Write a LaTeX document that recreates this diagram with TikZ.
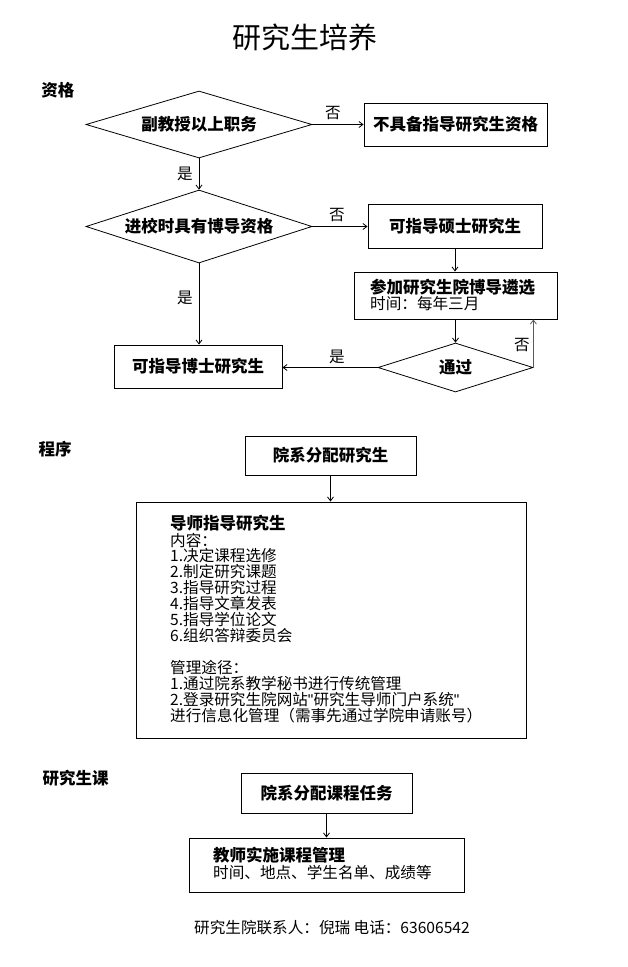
\documentclass[tikz,border=0pt]{standalone}
\usepackage{fontspec}
\setmainfont{Noto Sans CJK SC}
\newfontfamily\quotefont{Liberation Sans}
\usetikzlibrary{arrows.meta,shapes.geometric}
\newcommand\mynorm{\fontsize{15.6}{16}\selectfont}
\newcommand\mybold{\fontsize{16.5}{17}\selectfont\bfseries}
\newcommand\sq{{\quotefont\symbol{"22}}}
\begin{document}
\begin{tikzpicture}[x=1pt,y=-1pt,
  box/.style={draw, line width=0.9pt, inner sep=0pt, font=\mybold},
  dia/.style={draw, line width=0.8pt, shape=diamond, inner sep=0pt, font=\mybold},
  conn/.style={draw, line width=0.8pt, -{Straight Barb[length=4pt,width=6pt]}},
  lbl/.style={inner sep=0pt, font=\mybold},
  yn/.style={inner sep=0pt, font=\mynorm},
  txt/.style={inner sep=0pt, anchor=base west, font=\mynorm},
  btxt/.style={inner sep=0pt, anchor=base west, font=\mybold}]
\useasboundingbox (0,0) rectangle (627,967);
\fill[white] (0,0) rectangle (627,967);

% title
\node[inner sep=0pt, font=\fontsize{29}{30}\selectfont] (title) at (305,37) {研究生培养};

% section 1
\node[lbl] (s1) at (58,90) {资格};
\node[dia, aspect=3.37, minimum width=226pt, minimum height=67pt] (d1) at (199,124.5) {副教授以上职务};
\node[box, minimum width=183pt, minimum height=43pt] (b1) at (455.5,124.5) {不具备指导研究生资格};
\node[dia, aspect=3.1, minimum width=226pt, minimum height=73pt] (d2) at (199,226.5) {进校时具有博导资格};
\node[box, minimum width=174pt, minimum height=44pt] (b2) at (455,226) {可指导硕士研究生};
\node[box, minimum width=203pt, minimum height=47pt] (b3) at (455.5,295.5) {};
\node[btxt] (b3a) at (370,293.3) {参加研究生院博导遴选};
\node[txt] (b3b) at (370,309) {时间：每年三月};
\node[dia, aspect=3.16, minimum width=155pt, minimum height=49pt] (d3) at (455.5,367.5) {通过};
\node[box, minimum width=168pt, minimum height=43pt] (b4) at (198,366.5) {可指导博士研究生};

\path[conn] (d1.east) -- (b1.west);
\node[yn] (n1) at (333,113) {否};
\path[conn] (d1.south) -- (d2.north);
\node[yn] (y1) at (185,174) {是};
\path[conn] (d2.east) -- (d2.east -| b2.west);
\node[yn] (n2) at (337,215) {否};
\path[conn] (b2.south) -- (b2.south |- b3.north);
\path[conn] (b3.south) -- (b3.south |- d3.north);
\path[conn] (d2.south) -- (d2.south |- b4.north);
\node[yn] (y2) at (185,298) {是};
\path[conn] (d3.west) -- (d3.west -| b4.east);
\node[yn] (y3) at (337,357) {是};
\path[conn, draw=black!65] (d3.east) -- (d3.east |- b3.south);
\node[yn] (n3) at (522,345) {否};

% section 2
\node[lbl] (s2) at (55,449) {程序};
\node[box, minimum width=171pt, minimum height=39pt] (b5) at (330.5,455.5) {院系分配研究生};
\node[box, minimum width=390pt, minimum height=236pt] (b6) at (331,620) {};
\path[conn] (b5.south) -- (b5.south |- b6.north);
\node[btxt] (l0) at (170,529.3) {导师指导研究生};
\foreach \t [count=\i] in {内容：,1.决定课程选修,2.制定研究课题,3.指导研究过程,4.指导文章发表,5.指导学位论文,6.组织答辩委员会}
  \node[txt] (l\i) at (170,{540+6+(\i-1)*15.85}) {\t};
\node[txt] (m0) at (170,673) {管理途径：};
\node[txt] (m1) at (170,689) {1.通过院系教学秘书进行传统管理};
\node[txt] (m2) at (170,705) {2.登录研究生院网站\sq 研究生导师门户系统\sq};
\node[txt] (m3) at (170,721) {进行信息化管理（需事先通过学院申请账号）};

% section 3
\node[lbl] (s3) at (75.5,778) {研究生课};
\node[box, minimum width=171pt, minimum height=40pt] (b7) at (326.5,793) {院系分配课程任务};
\node[box, minimum width=275pt, minimum height=54pt] (b8) at (326.5,865) {};
\path[conn] (b7.south) -- (b7.south |- b8.north);
\node[btxt] (c1) at (213,861.3) {教师实施课程管理};
\node[txt] (c2) at (213,878) {时间、地点、学生名单、成绩等};

% footer
\node[txt] (foot) at (194,933) {研究生院联系人：倪瑞 电话：63606542};
\end{tikzpicture}
\end{document}
